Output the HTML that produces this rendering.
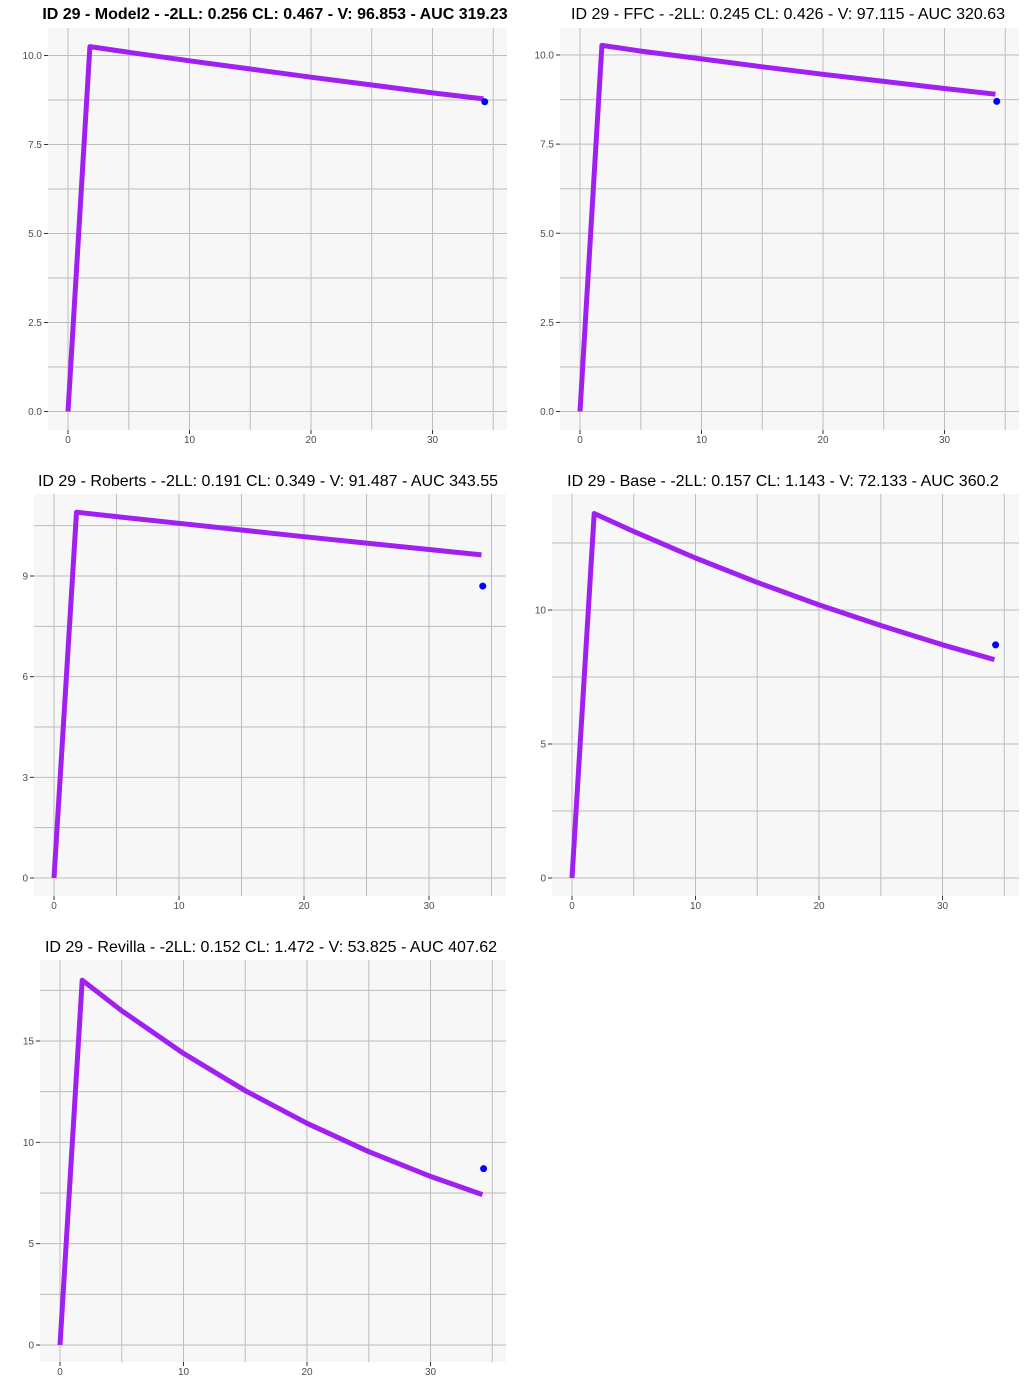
<!DOCTYPE html>
<html><head><meta charset="utf-8">
<style>
html,body{margin:0;padding:0;background:#fff;}
body{width:1024px;height:1400px;overflow:hidden;font-family:"Liberation Sans",sans-serif;}
svg{position:absolute;left:0;top:0;}
</style></head>
<body>
<svg id="chart" width="1024" height="1400"></svg>
<script>
const times = [0, 1.8, 5, 10, 15, 20, 25, 30, 34.2];
const obsTime = [34.3];
const obsConc = [8.7];
const model2Conc = [0, 10.25, 10.09, 9.85, 9.62, 9.39, 9.17, 8.95, 8.78];
const ffcConc = [0, 10.27, 10.11, 9.89, 9.67, 9.46, 9.26, 9.06, 8.9];
const robertsConc = [0, 10.9, 10.77, 10.57, 10.37, 10.17, 9.98, 9.79, 9.63];
const baseConc = [0, 13.6, 12.93, 11.94, 11.03, 10.19, 9.42, 8.7, 8.15];
const revillaConc = [0, 18.0, 16.49, 14.39, 12.55, 10.94, 9.54, 8.32, 7.42];
const xTicks = [0, 10, 20, 30];
const titles = [
 "ID 29 - Model2 - -2LL: 0.256 CL: 0.467 - V: 96.853 - AUC 319.23",
 "ID 29 - FFC - -2LL: 0.245 CL: 0.426 - V: 97.115 - AUC 320.63",
 "ID 29 - Roberts - -2LL: 0.191 CL: 0.349 - V: 91.487 - AUC 343.55",
 "ID 29 - Base - -2LL: 0.157 CL: 1.143 - V: 72.133 - AUC 360.2",
 "ID 29 - Revilla - -2LL: 0.152 CL: 1.472 - V: 53.825 - AUC 407.62"
];
const yTicks1 = ["0.0","2.5","5.0","7.5","10.0"];
const yTicks3 = ["0","3","6","9"];
const yTicks4 = ["0","5","10"];
const yTicks5 = ["0","5","10","15"];

const NS="http://www.w3.org/2000/svg";
const svg=document.getElementById('chart');
function mk(tag,attrs,parent){const e=document.createElementNS(NS,tag);for(const k in attrs)e.setAttribute(k,attrs[k]);(parent||svg).appendChild(e);return e;}

const panels=[
 {name:'model2',conc:model2Conc,yt:yTicks1,step:2.5,x0:48,x1:507,y0:28,y1:430,px0:68,px10:189.5,py0:411.5,pyv:10,pyp:55.5,tx:275,ty:19,bold:true},
 {name:'ffc',conc:ffcConc,yt:yTicks1,step:2.5,x0:560,x1:1019,y0:28,y1:430,px0:580,px10:701.5,py0:411.5,pyv:10,pyp:55,tx:788,ty:19},
 {name:'roberts',conc:robertsConc,yt:yTicks3,step:3,x0:34,x1:506,y0:494,y1:896,px0:54,px10:179,py0:878,pyv:9,pyp:576,tx:268,ty:486},
 {name:'base',conc:baseConc,yt:yTicks4,step:5,x0:552,x1:1019,y0:494,y1:896,px0:572,px10:695.5,py0:878,pyv:10,pyp:610,tx:783,ty:486},
 {name:'revilla',conc:revillaConc,yt:yTicks5,step:5,x0:40,x1:506,y0:960,y1:1362,px0:60,px10:183.5,py0:1345,pyv:15,pyp:1041,tx:271,ty:952}
];

panels.forEach(p=>{
 const g=mk('g',{});
 
 
 const sx=(p.px10-p.px0)/10, sy=(p.py0-p.pyp)/p.pyv;
 const X=t=>p.px0+t*sx, Y=v=>p.py0-v*sy;
 const bg=mk('rect',{x:p.x0,y:p.y0,width:p.x1-p.x0,height:p.y1-p.y0,fill:'#f7f7f7'},g);
 
 
 // vertical grid every 5
 for(let t=-5;t<=40;t+=5){const x=X(t);if(x<p.x0||x>p.x1)continue;
  const l=mk('line',{x1:x,x2:x,y1:p.y0,y2:p.y1,stroke:'#bdbdbd','stroke-width':1},g);
  
  }
 for(let v=0;v<=40;v+=p.step/2){const y=Y(v);if(y<p.y0||y>p.y1)continue;
  const l=mk('line',{x1:p.x0,x2:p.x1,y1:y,y2:y,stroke:'#bdbdbd','stroke-width':1},g);
  
  }
 p.yt.forEach((lab,i)=>{const y=Y(i*p.step);
  const tk=mk('line',{x1:p.x0-4,x2:p.x0,y1:y,y2:y,stroke:'#333','stroke-width':1},g);
  
  
  const tx=mk('text',{x:p.x0-6,y:y+3.5,'text-anchor':'end','font-size':'10',fill:'#4d4d4d'},g);
  tx.textContent=lab;
  
  });
 xTicks.forEach(t=>{const x=X(t);
  const tk=mk('line',{x1:x,x2:x,y1:p.y1,y2:p.y1+4,stroke:'#333','stroke-width':1},g);
  
  
  const tx=mk('text',{x:x,y:p.y1+13,'text-anchor':'middle','font-size':'10',fill:'#4d4d4d'},g);
  tx.textContent=t;
  
  });
 const pts=times.map((t,i)=>X(t).toFixed(1)+','+Y(p.conc[i]).toFixed(1)).join(' ');
 const ln=mk('polyline',{points:pts,fill:'none',stroke:'#a020f0','stroke-width':5,'stroke-linejoin':'round'},g);
 
 
 obsTime.forEach((t,i)=>{
  const c=mk('circle',{cx:X(t),cy:Y(obsConc[i]),r:3.5,fill:'#0000ff'},g);
  
  });
 const ti=mk('text',{x:p.tx,y:p.ty,'text-anchor':'middle','font-size':'16',fill:'#000','font-weight':p.bold?'bold':'normal'},g);
 ti.textContent=titles[panels.indexOf(p)];
 
 
});
</script>
</body></html>
